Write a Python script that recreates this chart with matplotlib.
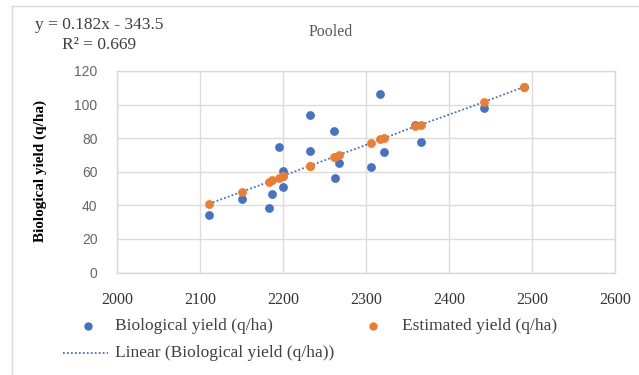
import matplotlib
matplotlib.use("Agg")
import matplotlib.pyplot as plt
from matplotlib.lines import Line2D
import numpy as np

# values
straw = [2111, 2150, 2183, 2187, 2195, 2200, 2200, 2232, 2232, 2262, 2263, 2267,
         2306, 2317, 2322, 2359, 2366, 2442, 2490]
bio_yield = [34.0, 43.5, 38.5, 47.0, 74.5, 60.5, 51.0, 93.5, 72.5, 84.5, 56.0, 65.0,
             63.0, 106.5, 72.0, 88.0, 77.5, 98.0, 110.5]
est_yield = [41.0, 48.0, 54.0, 55.0, 56.5, 57.5, 57.5, 63.5, 63.5, 69.0, 69.0, 70.0,
             77.0, 79.5, 80.0, 87.0, 88.0, 101.5, 110.5]

xticks = [2000, 2100, 2200, 2300, 2400, 2500, 2600]
yticks = [0, 20, 40, 60, 80, 100, 120]

equation = "y = 0.182x - 343.5"
r2_text = "R² = 0.669"
title = "Pooled"
ylabel = "Biological yield (q/ha)"
bio_label = "Biological yield (q/ha)"
est_label = "Estimated yield (q/ha)"
trend_label = "Linear (Biological yield (q/ha))"

blue = "#4472C4"
orange = "#ED7D31"
serif = "Liberation Serif"

W, H = 639, 375
fig = plt.figure(figsize=(W / 100, H / 100), dpi=100)

def fx(px):
    return px / W

def fy(py):
    return 1 - py / H

ax = fig.add_axes([fx(117), fy(272.5), fx(615) - fx(117), fy(71) - fy(272.5)])

# trendline through the estimated (fitted) points
order = np.argsort(straw)
ax.plot(np.array(straw)[order], np.array(est_yield)[order], ls=(0, (1, 1.2)),
        color=blue, lw=1.3, zorder=2)
ax.scatter(straw, bio_yield, s=40, color=blue, zorder=3, linewidths=0)
ax.scatter(straw, est_yield, s=40, color=orange, zorder=4, linewidths=0)

ax.set_xlim(2000, 2600)
ax.set_ylim(0, 120)
ax.set_xticks(xticks)
ax.set_yticks(yticks)
ax.grid(True, color="#dcdcdc", lw=1.0, zorder=0)
ax.set_axisbelow(True)
for s in ax.spines.values():
    s.set_color("#d9d9d9")
    s.set_linewidth(1.0)
ax.tick_params(length=0)
ax.tick_params(axis="x", pad=14)
ax.tick_params(axis="y", pad=14)
for lab in ax.get_xticklabels():
    lab.set_fontfamily(serif)
    lab.set_fontsize(11.5)
    lab.set_color("#333333")
for lab in ax.get_yticklabels():
    lab.set_fontfamily("Liberation Sans")
    lab.set_fontsize(10)
    lab.set_color("#666666")

fig.text(fx(40), fy(171), ylabel, rotation=90, ha="center", va="center",
         family=serif, fontsize=11, fontweight="bold", color="#000000")

fig.text(fx(35), fy(25), equation, ha="left", va="center", family=serif,
         fontsize=12.5, color="#404040")
fig.text(fx(62), fy(45), r2_text, ha="left", va="center", family=serif,
         fontsize=12.5, color="#404040")
fig.text(fx(331), fy(32), title, ha="center", va="center", family=serif,
         fontsize=11.5, color="#595959")

# legend drawn below the plot
lx = [88, 373]
fig.add_artist(Line2D([fx(lx[0])], [fy(326)], marker="o", ms=5, color=blue, ls=""))
fig.text(fx(115), fy(326), bio_label, ha="left", va="center", family=serif,
         fontsize=12.5, color="#404040")
fig.add_artist(Line2D([fx(lx[1])], [fy(326)], marker="o", ms=5, color=orange, ls=""))
fig.text(fx(402), fy(326), est_label, ha="left", va="center", family=serif,
         fontsize=12.5, color="#404040")
fig.add_artist(Line2D([fx(63), fx(108)], [fy(353), fy(353)], ls=(0, (1, 1.2)),
                      color=blue, lw=1.3))
fig.text(fx(115), fy(353), trend_label, ha="left", va="center", family=serif,
         fontsize=12.5, color="#404040")

# chart area border (left and top visible)
fig.add_artist(Line2D([fx(12), fx(12)], [fy(6), 0], color="#d9d9d9", lw=1.0))
fig.add_artist(Line2D([fx(12), 1], [fy(6), fy(6)], color="#d9d9d9", lw=1.0))

fig.savefig("out.png", dpi=100)
